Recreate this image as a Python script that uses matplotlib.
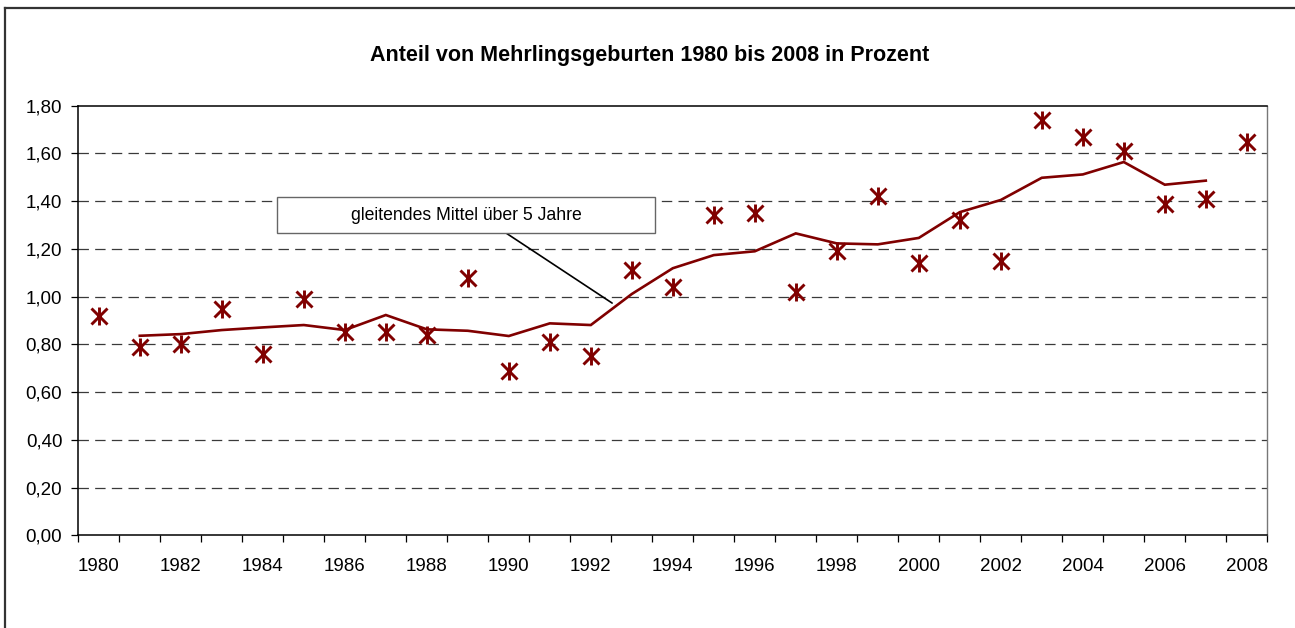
import matplotlib
matplotlib.use("Agg")
import matplotlib.pyplot as plt
from matplotlib import font_manager
from matplotlib.lines import Line2D
from matplotlib.patches import Rectangle
from matplotlib.ticker import FixedLocator, FuncFormatter

# ---- data ----
years = list(range(1980, 2009))
share = [0.92, 0.79, 0.80, 0.95, 0.76, 0.99, 0.85, 0.85, 0.84, 1.08,
         0.69, 0.81, 0.75, 1.11, 1.04, 1.34, 1.35, 1.02, 1.19, 1.42,
         1.14, 1.32, 1.15, 1.74, 1.67, 1.61, 1.39, 1.41, 1.65]
ma_years = list(range(1981, 2008))
moving_avg = [0.836, 0.843, 0.860, 0.871, 0.881, 0.860, 0.923, 0.863, 0.857, 0.835,
              0.888, 0.881, 1.011, 1.119, 1.174, 1.190, 1.265, 1.223, 1.219, 1.246,
              1.354, 1.405, 1.498, 1.512, 1.564, 1.469, 1.486]
yticks = [0.0, 0.2, 0.4, 0.6, 0.8, 1.0, 1.2, 1.4, 1.6, 1.8]
xlabel_years = list(range(1980, 2009, 2))
title = "Anteil von Mehrlingsgeburten 1980 bis 2008 in Prozent"
note = "gleitendes Mittel über 5 Jahre"

# ---- fonts ----
avail = {f.name for f in font_manager.fontManager.ttflist}
fam = "Liberation Sans Narrow" if "Liberation Sans Narrow" in avail else "Liberation Sans"
narrow = fam == "Liberation Sans Narrow"
plt.rcParams["font.family"] = [fam, "DejaVu Sans"]
plt.rcParams["lines.scale_dashes"] = False
fs = 15.5 if narrow else 13.5

W, H = 1295, 628
fig = plt.figure(figsize=(W / 100, H / 100), dpi=100)
ax = fig.add_axes([78.3 / W, 1 - 535.3 / H, (1267.3 - 78.3) / W, (535.3 - 105.7) / H])

red = "#800000"
idx = {y: i for i, y in enumerate(years)}
xs = [idx[y] for y in years]
mxs = [idx[y] for y in ma_years]

ax.plot(mxs, moving_avg, color=red, lw=1.9, zorder=3, solid_joinstyle="miter")
ax.plot(xs, share, linestyle="none", marker="x", ms=11, mew=2.1, color=red, zorder=4)
ax.plot(xs, share, linestyle="none", marker="|", ms=12.5, mew=2.1, color=red, zorder=4)

ax.set_xlim(-0.5, len(years) - 0.5)
ax.set_ylim(0, 1.8)

# y axis
ax.set_yticks(yticks)
ax.yaxis.set_major_formatter(FuncFormatter(lambda v, p: f"{v:.2f}".replace(".", ",")))
for y in yticks[1:-1]:
    ax.axhline(y, color="#3a3a3a", lw=0.9, dashes=(7.5, 4.5), zorder=1)
ax.tick_params(axis="y", length=5, width=0.9, pad=6.5, labelsize=fs, colors="black")

# x axis: labels at every other category, ticks between categories
ax.set_xticks([idx[y] for y in xlabel_years])
ax.set_xticklabels([str(y) for y in xlabel_years])
ax.xaxis.set_minor_locator(FixedLocator([i - 0.5 for i in range(len(years) + 1)]))
ax.tick_params(axis="x", which="major", length=0, pad=16, labelsize=fs)
ax.tick_params(axis="x", which="minor", length=5, width=0.9)

for s in ["left", "bottom", "top"]:
    ax.spines[s].set_color("black")
    ax.spines[s].set_linewidth(1.1)
ax.spines["right"].set_color("#777777")
ax.spines["right"].set_linewidth(1.0)

# title
fig.text(650 / W, 1 - 55 / H, title, ha="center", va="center",
         fontsize=15.5 if not narrow else 16, fontweight="bold")

# annotation box
bx0, bx1, by0, by1 = 277, 655, 197, 233
fig.patches.append(Rectangle((bx0 / W, 1 - by1 / H), (bx1 - bx0) / W, (by1 - by0) / H,
                             transform=fig.transFigure, facecolor="white",
                             edgecolor="#666666", lw=1.0, zorder=5))
fig.text((bx0 + bx1) / 2 / W, 1 - (by0 + by1) / 2 / H, note, ha="center", va="center",
         fontsize=12.7 if not narrow else 15, zorder=6)
ax.annotate("", xy=(12.52, 0.973), xycoords="data",
            xytext=(506, H - 233), textcoords="figure pixels",
            arrowprops=dict(arrowstyle="-", color="black", lw=1.2, shrinkA=0, shrinkB=0))

# outer frame (left and top edges visible)
fig.add_artist(Line2D([5 / W, 5 / W], [0, 1 - 8 / H], transform=fig.transFigure,
                      color="#333333", lw=1.6))
fig.add_artist(Line2D([5 / W, 1], [1 - 8 / H, 1 - 8 / H], transform=fig.transFigure,
                      color="#333333", lw=1.6))

fig.savefig("out.png", dpi=100)
